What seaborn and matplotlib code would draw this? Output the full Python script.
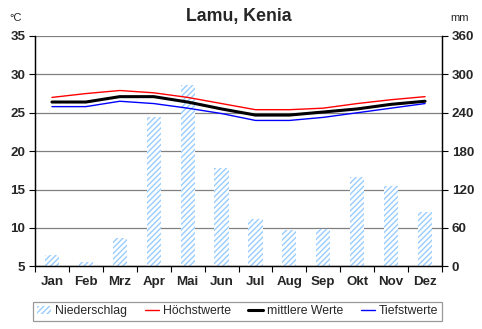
import matplotlib
matplotlib.use("Agg")
import matplotlib.pyplot as plt
import seaborn as sns
import pandas as pd
from matplotlib.lines import Line2D
from matplotlib.patches import Patch

months = ["Jan", "Feb", "Mrz", "Apr", "Mai", "Jun", "Jul", "Aug", "Sep", "Okt", "Nov", "Dez"]
precip_mm = [18, 6, 44, 233, 284, 154, 74, 57, 59, 139, 126, 85]
temp_max = [27.0, 27.5, 27.9, 27.6, 27.0, 26.2, 25.4, 25.4, 25.6, 26.2, 26.7, 27.1]
temp_mean = [26.4, 26.4, 27.1, 27.1, 26.4, 25.5, 24.7, 24.7, 25.1, 25.5, 26.1, 26.5]
temp_min = [25.8, 25.8, 26.5, 26.2, 25.6, 24.9, 24.0, 24.0, 24.4, 25.0, 25.6, 26.2]
left_ticks = [5, 10, 15, 20, 25, 30, 35]
right_ticks = [0, 60, 120, 180, 240, 300, 360]

sns.set_theme(style="white")
plt.rcParams["font.family"] = ["Liberation Sans", "DejaVu Sans"]
plt.rcParams["hatch.linewidth"] = 1.0

df = pd.DataFrame({"Monat": months, "mm": precip_mm, "max": temp_max,
                   "mean": temp_mean, "min": temp_min})

fig = plt.figure(figsize=(4.82, 3.29), dpi=100)
ax = fig.add_axes([35/482, 1-266.3/329, 407/482, 230.3/329])
ax2 = ax.twinx()
ax.set_zorder(ax2.get_zorder() + 1)
ax.patch.set_visible(False)
ax2.set_facecolor("white")

bar_color = "#99ccff"
sns.barplot(data=df, x="Monat", y="mm", ax=ax2, width=0.42, color="white",
            edgecolor=bar_color, linewidth=0, hatch="//////", saturation=1)
for p in ax2.patches:
    p.set_hatch("//////")
    p.set_edgecolor(bar_color)
    p.set_linewidth(0)

sns.lineplot(data=df, x="Monat", y="max", ax=ax, color="#ff0000", linewidth=1.0, sort=False)
sns.lineplot(data=df, x="Monat", y="mean", ax=ax, color="black", linewidth=2.2, sort=False)
sns.lineplot(data=df, x="Monat", y="min", ax=ax, color="#0000ff", linewidth=1.0, sort=False)

ax.set_xlim(-0.5, 11.5)
ax2.set_xlim(-0.5, 11.5)
ax.set_ylim(5, 35)
ax2.set_ylim(0, 360)
ax.set_yticks(left_ticks)
ax2.set_yticks(right_ticks)
ax2.grid(axis="y", color="#808080", linewidth=0.9)
ax2.set_axisbelow(True)
ax.grid(False)

fs = 9.6
ax.set_xticks(range(12))
ax.set_xticklabels(months)
ax.set_xticks([i - 0.5 for i in range(13)], minor=True)
ax.tick_params(axis="x", which="major", length=0, pad=7, labelsize=fs)
ax.tick_params(axis="x", which="minor", length=4, width=0.8, color="black", direction="out", bottom=True)
ax.tick_params(axis="y", which="major", length=4, width=0.8, color="black", direction="out", left=True, labelsize=fs, pad=3)
ax2.tick_params(axis="y", which="major", length=4, width=0.8, color="black", direction="out", right=True, labelsize=fs, pad=3)
for lab in ax.get_xticklabels() + ax.get_yticklabels() + ax2.get_yticklabels():
    lab.set_fontweight("bold")
ax.set_xlabel("")
ax.set_ylabel("")
ax2.set_ylabel("")

for a in (ax, ax2):
    a.spines["top"].set_visible(False)
    for s in ("left", "right", "bottom"):
        a.spines[s].set_color("black")
        a.spines[s].set_linewidth(0.9)

fig.text(238.5/482, 1-17/329, "Lamu, Kenia", ha="center", va="center", fontsize=12.8, fontweight="bold")
fig.text(9/482, 1-18/329, "°C", ha="left", va="center", fontsize=8)
fig.text(450/482, 1-18/329, "mm", ha="left", va="center", fontsize=8)

handles = [Patch(facecolor="white", edgecolor=bar_color, hatch="//////", linewidth=0),
           Line2D([], [], color="#ff0000", linewidth=1.0),
           Line2D([], [], color="black", linewidth=2.2),
           Line2D([], [], color="#0000ff", linewidth=1.0)]
labels = ["Niederschlag", "Höchstwerte", "mittlere Werte", "Tiefstwerte"]
leg = fig.legend(handles, labels, loc="lower left", ncol=4, mode="expand",
                 bbox_to_anchor=(33/482, 1-321/329, 409/482, 20/329),
                 frameon=True, fancybox=False, fontsize=8.8, handlelength=1.2,
                 handletextpad=0.3, columnspacing=0.6, borderpad=0.3,
                 borderaxespad=0)
leg.get_frame().set_edgecolor("#808080")
leg.get_frame().set_linewidth(0.9)

fig.savefig("out.png", dpi=100)
